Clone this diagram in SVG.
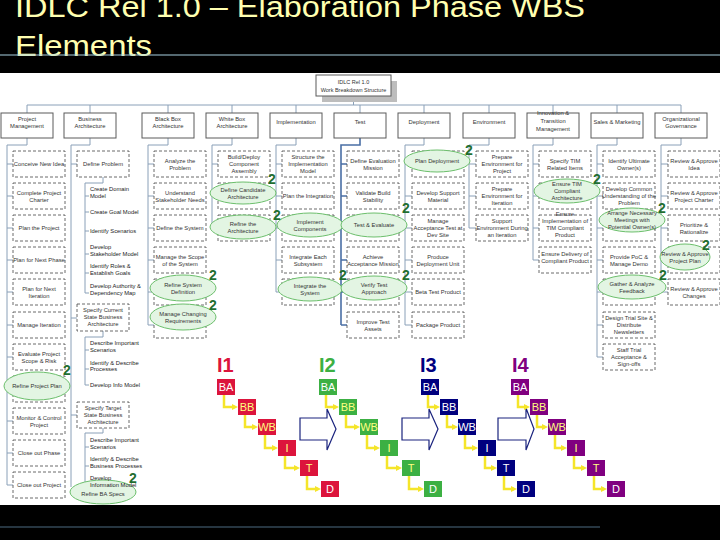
<svg xmlns="http://www.w3.org/2000/svg" width="720" height="540" viewBox="0 0 720 540">
<style>
.title{font-family:"Liberation Sans",Arial,sans-serif;font-size:30px;fill:#FFFFB0}
.l1{fill:#fff;stroke:#5a5a5a;stroke-width:1}
.it{fill:#fff;stroke:#444;stroke-width:0.8;stroke-dasharray:3 2}
.el{fill:#e3f5e3;stroke:#6cbf6c;stroke-width:1}
.cn{fill:none;stroke:#8aa0b8;stroke-width:1}
.cnb{fill:none;stroke:#4a6fa5;stroke-width:1.6}
.t{font-family:"Liberation Sans",Arial,sans-serif;font-size:5.8px;fill:#333;text-anchor:middle}
.s{font-family:"Liberation Sans",Arial,sans-serif;font-size:5.8px;fill:#222;text-anchor:start}
.two{font-family:"Liberation Sans",Arial,sans-serif;font-size:14px;font-weight:bold;fill:#1f6e2f;text-anchor:middle}
.il{font-family:"Liberation Sans",Arial,sans-serif;font-size:20px;font-weight:bold}
.bx{font-family:"Liberation Sans",Arial,sans-serif;font-size:11px;text-anchor:middle}
.ya{fill:none;stroke:#F5E52A;stroke-width:2.5;marker-end:url(#yh)}
.big{fill:#fff;stroke:#1a237e;stroke-width:1.2}
</style>
<defs>
<marker id="yh" markerWidth="6" markerHeight="6" refX="3" refY="3" orient="auto" markerUnits="userSpaceOnUse"><path d="M0,0 L6,3 L0,6 z" fill="#F5E52A"/></marker>
</defs>
<rect x="0" y="0" width="720" height="540" fill="#000"/>
<text class="title" x="15" y="17" textLength="570" lengthAdjust="spacingAndGlyphs">IDLC Rel 1.0 – Elaboration Phase WBS</text>
<text class="title" x="15" y="56" textLength="137" lengthAdjust="spacingAndGlyphs">Elements</text>
<line x1="0" y1="55" x2="720" y2="55" stroke="#a8d0e0" stroke-width="1"/>
<rect x="0" y="73" width="720" height="432" fill="#fff"/>
<line x1="0" y1="527" x2="600" y2="527" stroke="#4d6a80" stroke-width="1.2"/>

<g id="connectors">
<path class="cn" d="M353.5 96V105M27 105H681M27 105V113M90 105V113M168 105V113M232 105V113M296 105V113M360 105V113M424 105V113M489 105V113M553 105V113M617 105V113M681 105V113"/>
<path class="cn" d="M27 138V145H7V485M7 164H13M7 196H13M7 228H13M7 260H13M7 292H13M7 325H13M7 357H13M7 389H13M7 421H13M7 453H13M7 485H13"/>
<path class="cn" d="M90 138V145H71V487M71 164H77M71 318H77M71 415H77"/>
<path class="cn" d="M103 177V183H85V293M85 196H89M85 212H89M85 231H89M85 254H89M85 273H89M85 293H89"/>
<path class="cn" d="M103 331V337H85V385M85 350H89M85 369H89M85 385H89"/>
<path class="cn" d="M103 428V433H85V485M85 447H89M85 466H89M85 485H89"/>
<path class="cn" d="M168 138V145H148V325M148 164H154M148 196H154M148 228H154M148 260H154M148 292H154M148 325H154"/>
<path class="cn" d="M232 138V145H212V228M212 164H218M212 196H218M212 228H218"/>
<path class="cn" d="M296 138V145H276V292M276 164H282M276 196H282M276 228H282M276 260H282M276 292H282"/>
<path class="cnb" d="M360 138V145H341V325M341 164H347M341 196H347M341 228H347M341 260H347M341 292H347M341 325H347"/>
<path class="cn" d="M424 138V145H405V325M405 164H412M405 196H412M405 228H412M405 260H412M405 292H412M405 325H412"/>
<path class="cn" d="M489 138V145H469V228M469 164H476M469 196H476M469 228H476"/>
<path class="cn" d="M553 138V145H533V260M533 164H539M533 196H539M533 228H539M533 260H539"/>
<path class="cn" d="M617 138V145H597V357M597 164H603M597 196H603M597 228H603M597 260H603M597 292H603M597 325H603M597 357H603"/>
<path class="cn" d="M681 138V145H661V292M661 164H668M661 196H668M661 228H668M661 260H668M661 292H668"/>
</g>

<g id="root">
<rect x="322" y="81" width="75" height="21" fill="#bdbdbd"/>
<rect class="l1" x="316" y="75" width="75" height="21"/>
<text class="t" x="353.5" y="84" style="font-size:5.5px">IDLC Rel 1.0</text>
<text class="t" x="353.5" y="92" style="font-size:5.5px">Work Breakdown Structure</text>
</g>

<g id="l1-pm"><rect class="l1" x="1" y="113" width="52" height="25"/><text class="t" x="27" y="121">Project</text><text class="t" x="27" y="128">Management</text></g>
<g id="l1-ba"><rect class="l1" x="64" y="113" width="52" height="25"/><text class="t" x="90" y="121">Business</text><text class="t" x="90" y="128">Architecture</text></g>
<g id="l1-bb"><rect class="l1" x="142" y="113" width="52" height="25"/><text class="t" x="168" y="121">Black Box</text><text class="t" x="168" y="128">Architecture</text></g>
<g id="l1-wb"><rect class="l1" x="206" y="113" width="52" height="25"/><text class="t" x="232" y="121">White Box</text><text class="t" x="232" y="128">Architecture</text></g>
<g id="l1-impl"><rect class="l1" x="270" y="113" width="52" height="25"/><text class="t" x="296" y="124">Implementation</text></g>
<g id="l1-test"><rect class="l1" x="334" y="113" width="52" height="25"/><text class="t" x="360" y="124">Test</text></g>
<g id="l1-dep"><rect class="l1" x="398" y="113" width="52" height="25"/><text class="t" x="424" y="124">Deployment</text></g>
<g id="l1-env"><rect class="l1" x="463" y="113" width="52" height="25"/><text class="t" x="489" y="124">Environment</text></g>
<g id="l1-itm"><rect class="l1" x="527" y="113" width="52" height="25"/><text class="t" x="553" y="115">Innovation &amp;</text><text class="t" x="553" y="123">Transition</text><text class="t" x="553" y="131">Management</text></g>
<g id="l1-sm"><rect class="l1" x="591" y="113" width="52" height="25"/><text class="t" x="617" y="124">Sales &amp; Marketing</text></g>
<g id="l1-og"><rect class="l1" x="655" y="113" width="52" height="25"/><text class="t" x="681" y="121">Organizational</text><text class="t" x="681" y="128">Governance</text></g>

<!-- Column 1 -->
<g id="pm-1"><rect class="it" x="13" y="151" width="52" height="26"/><text class="t" x="39" y="166">Conceive New Idea</text></g>
<g id="pm-2"><rect class="it" x="13" y="183" width="52" height="26"/><text class="t" x="39" y="194.5">Complete Project</text><text class="t" x="39" y="201.5">Charter</text></g>
<g id="pm-3"><rect class="it" x="13" y="215" width="52" height="26"/><text class="t" x="39" y="230">Plan the Project</text></g>
<g id="pm-4"><rect class="it" x="13" y="247" width="52" height="26"/><text class="t" x="39" y="262">Plan for Next Phase</text></g>
<g id="pm-5"><rect class="it" x="13" y="279" width="52" height="26"/><text class="t" x="39" y="290.5">Plan for Next</text><text class="t" x="39" y="297.5">Iteration</text></g>
<g id="pm-6"><rect class="it" x="13" y="312" width="52" height="26"/><text class="t" x="39" y="327">Manage Iteration</text></g>
<g id="pm-7"><rect class="it" x="13" y="344" width="52" height="26"/><text class="t" x="39" y="355.5">Evaluate Project</text><text class="t" x="39" y="362.5">Scope &amp; Risk</text></g>
<g id="pm-8"><rect class="it" x="13" y="376" width="52" height="26"/><ellipse class="el" cx="37" cy="386" rx="33" ry="14"/><text class="t" x="37" y="388">Refine Project Plan</text></g>
<g id="pm-9"><rect class="it" x="13" y="408" width="52" height="26"/><text class="t" x="39" y="419.5">Monitor &amp; Control</text><text class="t" x="39" y="426.5">Project</text></g>
<g id="pm-10"><rect class="it" x="13" y="440" width="52" height="26"/><text class="t" x="39" y="455">Close out Phase</text></g>
<g id="pm-11"><rect class="it" x="13" y="472" width="52" height="26"/><text class="t" x="39" y="487">Close out Project</text></g>

<!-- Column 2 -->
<g id="ba-1"><rect class="it" x="77" y="151" width="52" height="26"/><text class="t" x="103" y="166">Define Problem</text></g>
<g id="ba-1-sub">
<text class="s" x="90" y="191">Create Domain</text><text class="s" x="90" y="198">Model</text>
<text class="s" x="90" y="214">Create Goal Model</text>
<text class="s" x="90" y="233">Identify Scenarios</text>
<text class="s" x="90" y="249">Develop</text><text class="s" x="90" y="256">Stakeholder Model</text>
<text class="s" x="90" y="268">Identify Roles &amp;</text><text class="s" x="90" y="275">Establish Goals</text>
<text class="s" x="90" y="288">Develop Authority &amp;</text><text class="s" x="90" y="295">Dependency Map</text>
</g>
<g id="ba-2"><rect class="it" x="77" y="304" width="52" height="27"/><text class="t" x="103" y="312">Specify Current</text><text class="t" x="103" y="319">State Business</text><text class="t" x="103" y="326">Architecture</text></g>
<g id="ba-2-sub">
<text class="s" x="90" y="345">Describe Important</text><text class="s" x="90" y="352">Scenarios</text>
<text class="s" x="90" y="365">Identify &amp; Describe</text><text class="s" x="90" y="371">Processes</text>
<text class="s" x="90" y="387">Develop Info Model</text>
</g>
<g id="ba-3"><rect class="it" x="77" y="402" width="52" height="26"/><text class="t" x="103" y="410">Specify Target</text><text class="t" x="103" y="417">State Business</text><text class="t" x="103" y="424">Architecture</text></g>
<g id="ba-4"><ellipse class="el" cx="103" cy="492" rx="33" ry="12"/><text class="t" x="103" y="496">Refine BA Specs</text></g>
<g id="ba-3-sub">
<text class="s" x="90" y="442">Describe Important</text><text class="s" x="90" y="449">Scenarios</text>
<text class="s" x="90" y="461">Identify &amp; Describe</text><text class="s" x="90" y="468">Business Processes</text>
<text class="s" x="90" y="480">Develop</text><text class="s" x="90" y="487">Information Model</text>
</g>

<!-- Column 3 -->
<g id="bb-1"><rect class="it" x="154" y="151" width="52" height="26"/><text class="t" x="180" y="162.5">Analyze the</text><text class="t" x="180" y="169.5">Problem</text></g>
<g id="bb-2"><rect class="it" x="154" y="183" width="52" height="26"/><text class="t" x="180" y="194.5">Understand</text><text class="t" x="180" y="201.5">Stakeholder Needs</text></g>
<g id="bb-3"><rect class="it" x="154" y="215" width="52" height="26"/><text class="t" x="180" y="230">Define the System</text></g>
<g id="bb-4"><rect class="it" x="154" y="247" width="52" height="26"/><text class="t" x="180" y="258.5">Manage the Scope</text><text class="t" x="180" y="265.5">of the System</text></g>
<g id="bb-5"><rect class="it" x="154" y="279" width="52" height="26"/><ellipse class="el" cx="183" cy="288" rx="33" ry="13"/><text class="t" x="183" y="286.5">Refine System</text><text class="t" x="183" y="293.5">Definition</text></g>
<g id="bb-6"><rect class="it" x="154" y="312" width="52" height="26"/><ellipse class="el" cx="183" cy="317" rx="33" ry="13"/><text class="t" x="183" y="315.5">Manage Changing</text><text class="t" x="183" y="322.5">Requirements</text></g>

<!-- Column 4 -->
<g id="wb-1"><rect class="it" x="218" y="151" width="52" height="26"/><text class="t" x="244" y="159">Build/Deploy</text><text class="t" x="244" y="166">Component</text><text class="t" x="244" y="173">Assembly</text></g>
<g id="wb-2"><rect class="it" x="218" y="183" width="52" height="26"/><ellipse class="el" cx="243" cy="193" rx="33" ry="11"/><text class="t" x="243" y="191.5">Define Candidate</text><text class="t" x="243" y="198.5">Architecture</text></g>
<g id="wb-3"><rect class="it" x="218" y="215" width="52" height="26"/><ellipse class="el" cx="243" cy="227" rx="33" ry="12"/><text class="t" x="243" y="225.5">Refine the</text><text class="t" x="243" y="232.5">Architecture</text></g>

<!-- Column 5 -->
<g id="im-1"><rect class="it" x="282" y="151" width="52" height="26"/><text class="t" x="308" y="159">Structure the</text><text class="t" x="308" y="166">Implementation</text><text class="t" x="308" y="173">Model</text></g>
<g id="im-2"><rect class="it" x="282" y="183" width="52" height="26"/><text class="t" x="308" y="198">Plan the Integration</text></g>
<g id="im-3"><rect class="it" x="282" y="215" width="52" height="26"/><ellipse class="el" cx="310" cy="225" rx="33" ry="12"/><text class="t" x="310" y="223.5">Implement</text><text class="t" x="310" y="230.5">Components</text></g>
<g id="im-4"><rect class="it" x="282" y="247" width="52" height="26"/><text class="t" x="308" y="258.5">Integrate Each</text><text class="t" x="308" y="265.5">Subsystem</text></g>
<g id="im-5"><rect class="it" x="282" y="279" width="52" height="26"/><ellipse class="el" cx="310" cy="289" rx="32" ry="12"/><text class="t" x="310" y="287.5">Integrate the</text><text class="t" x="310" y="294.5">System</text></g>

<!-- Column 6 -->
<g id="ts-1"><rect class="it" x="347" y="151" width="52" height="26"/><text class="t" x="373" y="162.5">Define Evaluation</text><text class="t" x="373" y="169.5">Mission</text></g>
<g id="ts-2"><rect class="it" x="347" y="183" width="52" height="26"/><text class="t" x="373" y="194.5">Validate Build</text><text class="t" x="373" y="201.5">Stability</text></g>
<g id="ts-3"><rect class="it" x="347" y="215" width="52" height="26"/><ellipse class="el" cx="374" cy="225" rx="33" ry="12"/><text class="t" x="374" y="227">Test &amp; Evaluate</text></g>
<g id="ts-4"><rect class="it" x="347" y="247" width="52" height="26"/><text class="t" x="373" y="258.5">Achieve</text><text class="t" x="373" y="265.5">Acceptance Mission</text></g>
<g id="ts-5"><rect class="it" x="347" y="279" width="52" height="26"/><ellipse class="el" cx="374" cy="288" rx="33" ry="12"/><text class="t" x="374" y="286.5">Verify Test</text><text class="t" x="374" y="293.5">Approach</text></g>
<g id="ts-6"><rect class="it" x="347" y="312" width="52" height="26"/><text class="t" x="373" y="323.5">Improve Test</text><text class="t" x="373" y="330.5">Assets</text></g>

<!-- Column 7 -->
<g id="dp-1"><rect class="it" x="412" y="151" width="52" height="26"/><ellipse class="el" cx="437" cy="161" rx="33" ry="11"/><text class="t" x="437" y="163">Plan Deployment</text></g>
<g id="dp-2"><rect class="it" x="412" y="183" width="52" height="26"/><text class="t" x="438" y="194.5">Develop Support</text><text class="t" x="438" y="201.5">Material</text></g>
<g id="dp-3"><rect class="it" x="412" y="215" width="52" height="26"/><text class="t" x="438" y="223">Manage</text><text class="t" x="438" y="230">Acceptance Test at</text><text class="t" x="438" y="237">Dev Site</text></g>
<g id="dp-4"><rect class="it" x="412" y="247" width="52" height="26"/><text class="t" x="438" y="258.5">Produce</text><text class="t" x="438" y="265.5">Deployment Unit</text></g>
<g id="dp-5"><rect class="it" x="412" y="279" width="52" height="26"/><text class="t" x="438" y="294">Beta Test Product</text></g>
<g id="dp-6"><rect class="it" x="412" y="312" width="52" height="26"/><text class="t" x="438" y="327">Package Product</text></g>

<!-- Column 8 -->
<g id="en-1"><rect class="it" x="476" y="151" width="52" height="26"/><text class="t" x="502" y="159">Prepare</text><text class="t" x="502" y="166">Environment for</text><text class="t" x="502" y="173">Project</text></g>
<g id="en-2"><rect class="it" x="476" y="183" width="52" height="26"/><text class="t" x="502" y="191">Prepare</text><text class="t" x="502" y="198">Environment for</text><text class="t" x="502" y="205">Iteration</text></g>
<g id="en-3"><rect class="it" x="476" y="215" width="52" height="26"/><text class="t" x="502" y="223">Support</text><text class="t" x="502" y="230">Environment During</text><text class="t" x="502" y="237">an Iteration</text></g>

<!-- Column 9 -->
<g id="tm-1"><rect class="it" x="539" y="151" width="52" height="26"/><text class="t" x="565" y="162.5">Specify TIM</text><text class="t" x="565" y="169.5">Related Items</text></g>
<g id="tm-2"><rect class="it" x="539" y="183" width="52" height="26"/><ellipse class="el" cx="567" cy="191" rx="33" ry="12"/><text class="t" x="567" y="186">Ensure TIM</text><text class="t" x="567" y="193">Compliant</text><text class="t" x="567" y="200">Architecture</text></g>
<g id="tm-3"><rect class="it" x="539" y="215" width="52" height="26"/><text class="t" x="565" y="216">Ensure</text><text class="t" x="565" y="223">Implementation of</text><text class="t" x="565" y="230">TIM Compliant</text><text class="t" x="565" y="237">Product</text></g>
<g id="tm-4"><rect class="it" x="539" y="247" width="52" height="26"/><text class="t" x="565" y="256">Ensure Delivery of</text><text class="t" x="565" y="263">Compliant Product</text></g>

<!-- Column 10 -->
<g id="sm-1"><rect class="it" x="603" y="151" width="52" height="26"/><text class="t" x="629" y="162.5">Identify Ultimate</text><text class="t" x="629" y="169.5">Owner(s)</text></g>
<g id="sm-2"><rect class="it" x="603" y="183" width="52" height="26"/><text class="t" x="629" y="191">Develop Common</text><text class="t" x="629" y="198">Understanding of the</text><text class="t" x="629" y="205">Problem</text></g>
<g id="sm-3"><rect class="it" x="603" y="215" width="52" height="26"/><ellipse class="el" cx="632" cy="220" rx="33" ry="12"/><text class="t" x="632" y="215">Arrange Necessary</text><text class="t" x="632" y="222">Meetings with</text><text class="t" x="632" y="229">Potential Owner(s)</text></g>
<g id="sm-4"><rect class="it" x="603" y="247" width="52" height="26"/><text class="t" x="629" y="258.5">Provide PoC &amp;</text><text class="t" x="629" y="265.5">Manage Demo</text></g>
<g id="sm-5"><rect class="it" x="603" y="279" width="52" height="26"/><ellipse class="el" cx="632" cy="287" rx="34" ry="12"/><text class="t" x="632" y="285.5">Gather &amp; Analyze</text><text class="t" x="632" y="292.5">Feedback</text></g>
<g id="sm-6"><rect class="it" x="603" y="312" width="52" height="26"/><text class="t" x="629" y="320">Design Trial Site &amp;</text><text class="t" x="629" y="327">Distribute</text><text class="t" x="629" y="334">Newsletters</text></g>
<g id="sm-7"><rect class="it" x="603" y="344" width="52" height="26"/><text class="t" x="629" y="352">Staff Trial</text><text class="t" x="629" y="359">Acceptance &amp;</text><text class="t" x="629" y="366">Sign-offs</text></g>

<!-- Column 11 -->
<g id="og-1"><rect class="it" x="668" y="151" width="52" height="26"/><text class="t" x="694" y="162.5">Review &amp; Approve</text><text class="t" x="694" y="169.5">Idea</text></g>
<g id="og-2"><rect class="it" x="668" y="183" width="52" height="26"/><text class="t" x="694" y="194.5">Review &amp; Approve</text><text class="t" x="694" y="201.5">Project Charter</text></g>
<g id="og-3"><rect class="it" x="668" y="215" width="52" height="26"/><text class="t" x="694" y="226.5">Prioritize &amp;</text><text class="t" x="694" y="233.5">Rationalize</text></g>
<g id="og-4"><rect class="it" x="668" y="247" width="52" height="26"/><ellipse class="el" cx="685" cy="257" rx="25" ry="13"/><text class="t" x="685" y="255.5">Review &amp; Approve</text><text class="t" x="685" y="262.5">Project Plan</text></g>
<g id="og-5"><rect class="it" x="668" y="279" width="52" height="26"/><text class="t" x="694" y="290.5">Review &amp; Approve</text><text class="t" x="694" y="297.5">Changes</text></g>

<g id="marks">
<text class="two" x="469" y="155">2</text>
<text class="two" x="272" y="184">2</text>
<text class="two" x="597" y="184">2</text>
<text class="two" x="277" y="220">2</text>
<text class="two" x="406" y="213">2</text>
<text class="two" x="662" y="213">2</text>
<text class="two" x="706" y="250">2</text>
<text class="two" x="213" y="280">2</text>
<text class="two" x="343" y="280">2</text>
<text class="two" x="406" y="280">2</text>
<text class="two" x="663" y="280">2</text>
<text class="two" x="213" y="310">2</text>
<text class="two" x="67" y="375">2</text>
<text class="two" x="133" y="483">2</text>
</g>

<!-- Iterations -->
<g id="big-arrows">
<path class="big" d="M300 418H327V409L336 429L327 450V440H300Z"/>
<path class="big" d="M402 418H429V409L438 429L429 450V440H402Z"/>
<path class="big" d="M498 418H526V408L534 429L526 450V440H498Z"/>
</g>

<g id="iter-arrows">
<path class="ya" d="M224 395V407H235"/><path class="ya" d="M245 415V427H255"/><path class="ya" d="M265 435V448H275"/><path class="ya" d="M285 456V468H297"/><path class="ya" d="M307 476V489H318"/>
<path class="ya" d="M326 395V407H336"/><path class="ya" d="M346 415V427H357"/><path class="ya" d="M367 435V448H377"/><path class="ya" d="M387 456V468H399"/><path class="ya" d="M409 476V489H421"/>
<path class="ya" d="M428 395V407H437"/><path class="ya" d="M447 415V427H455"/><path class="ya" d="M465 435V448H475"/><path class="ya" d="M485 456V468H494"/><path class="ya" d="M504 476V489H514"/>
<path class="ya" d="M518 395V407H527"/><path class="ya" d="M537 415V427H545"/><path class="ya" d="M555 435V448H564"/><path class="ya" d="M574 456V468H584"/><path class="ya" d="M594 476V489H604"/>
</g>

<g id="iter1">
<text class="il" x="217" y="372" fill="#DC143C">I1</text>
<rect x="217" y="379" width="18" height="16" fill="#DC143C"/><text class="bx" x="226" y="391" fill="#fff">BA</text>
<rect x="238" y="399" width="18" height="16" fill="#DC143C"/><text class="bx" x="247" y="411" fill="#FFFF80">BB</text>
<rect x="258" y="419" width="18" height="16" fill="#DC143C"/><text class="bx" x="267" y="431" fill="#FFFF80">WB</text>
<rect x="278" y="440" width="18" height="16" fill="#DC143C"/><text class="bx" x="287" y="452" fill="#FFFF80">I</text>
<rect x="300" y="460" width="18" height="16" fill="#DC143C"/><text class="bx" x="309" y="472" fill="#FFFF80">T</text>
<rect x="321" y="481" width="18" height="16" fill="#DC143C"/><text class="bx" x="330" y="493" fill="#fff">D</text>
</g>
<g id="iter2">
<text class="il" x="319" y="372" fill="#3CB043">I2</text>
<rect x="319" y="379" width="18" height="16" fill="#3CB043"/><text class="bx" x="328" y="391" fill="#fff">BA</text>
<rect x="339" y="399" width="18" height="16" fill="#3CB043"/><text class="bx" x="348" y="411" fill="#FFFF80">BB</text>
<rect x="360" y="419" width="18" height="16" fill="#3CB043"/><text class="bx" x="369" y="431" fill="#FFFF80">WB</text>
<rect x="380" y="440" width="18" height="16" fill="#3CB043"/><text class="bx" x="389" y="452" fill="#FFFF80">I</text>
<rect x="402" y="460" width="18" height="16" fill="#3CB043"/><text class="bx" x="411" y="472" fill="#FFFF80">T</text>
<rect x="424" y="481" width="18" height="16" fill="#3CB043"/><text class="bx" x="433" y="493" fill="#fff">D</text>
</g>
<g id="iter3">
<text class="il" x="420" y="372" fill="#00007F">I3</text>
<rect x="421" y="379" width="18" height="16" fill="#00007F"/><text class="bx" x="430" y="391" fill="#fff">BA</text>
<rect x="440" y="399" width="18" height="16" fill="#00007F"/><text class="bx" x="449" y="411" fill="#fff">BB</text>
<rect x="458" y="419" width="18" height="16" fill="#00007F"/><text class="bx" x="467" y="431" fill="#fff">WB</text>
<rect x="478" y="440" width="18" height="16" fill="#00007F"/><text class="bx" x="487" y="452" fill="#fff">I</text>
<rect x="497" y="460" width="18" height="16" fill="#00007F"/><text class="bx" x="506" y="472" fill="#fff">T</text>
<rect x="517" y="481" width="18" height="16" fill="#00007F"/><text class="bx" x="526" y="493" fill="#fff">D</text>
</g>
<g id="iter4">
<text class="il" x="512" y="372" fill="#800080">I4</text>
<rect x="511" y="379" width="18" height="16" fill="#800080"/><text class="bx" x="520" y="391" fill="#fff">BA</text>
<rect x="530" y="399" width="18" height="16" fill="#800080"/><text class="bx" x="539" y="411" fill="#FFFF80">BB</text>
<rect x="548" y="419" width="18" height="16" fill="#800080"/><text class="bx" x="557" y="431" fill="#FFFF80">WB</text>
<rect x="567" y="440" width="18" height="16" fill="#800080"/><text class="bx" x="576" y="452" fill="#FFFF80">I</text>
<rect x="587" y="460" width="18" height="16" fill="#800080"/><text class="bx" x="596" y="472" fill="#FFFF80">T</text>
<rect x="607" y="481" width="18" height="16" fill="#800080"/><text class="bx" x="616" y="493" fill="#fff">D</text>
</g>
</svg>
